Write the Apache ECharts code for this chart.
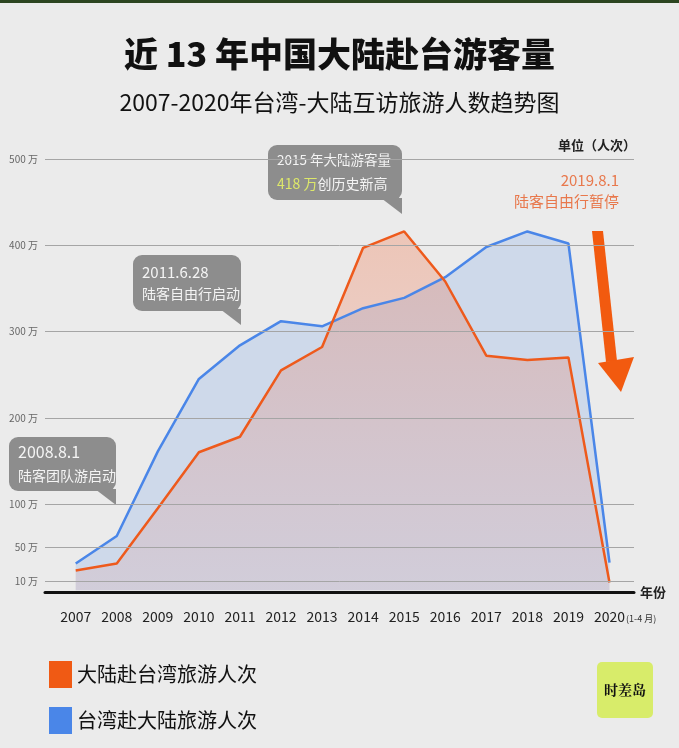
<!DOCTYPE html>
<html><head><meta charset="utf-8">
<script src="https://cdn.jsdelivr.net/npm/echarts@6/dist/echarts.min.js"></script>
<style>html,body{margin:0;padding:0;background:#ebebeb}#c{width:679px;height:748px}</style>
</head><body><div id="c"></div>
<script>
const years = [2007,2008,2009,2010,2011,2012,2013,2014,2015,2016,2017,2018,2019,2020];
// 台湾赴大陆 (万人次)
const taiwanToMainland = [31,63,161,245,284,312,306,327,339,363,398,416,402,32];
// 大陆赴台湾 (万人次)
const mainlandToTaiwan = [23,31,95,160,178,255,282,397,416,358,272,267,270,9];
const yTicks = [10,50,100,200,300,400,500];
const seriesNames = ['大陆赴台湾旅游人次','台湾赴大陆旅游人次'];
const titleText = '近 13 年中国大陆赴台游客量';
const subtitleText = '2007-2020年台湾-大陆互访旅游人数趋势图';

const F = '"Noto Sans CJK SC","Noto Sans",sans-serif';
const ORANGE = '#ee5a1c', BLUE = '#4a86e8', BOX = '#8d8d8d', BOXTXT = '#f4f4f4';

function callout(x, y, w, h, lines) {
  const els = [
    {type:'rect', shape:{x:x, y:y, width:w, height:h, r:9}, style:{fill:BOX}},
    {type:'polygon', shape:{points:[[x+w-21, y+h-2],[x+w, y+h-2],[x+w, y+h+14]]}, style:{fill:BOX}}
  ];
  lines.forEach(l => els.push({type:'text', x:x+9, y:l.y, style:{text:l.text, rich:l.rich, fill:BOXTXT, fontSize:l.size, fontFamily:F, verticalAlign:'middle', align:'left'}}));
  return els;
}

const chart = echarts.init(document.getElementById('c'));
chart.setOption({
  backgroundColor:'#ebebeb',
  animation:false,
  textStyle:{fontFamily:F},
  title:[
    {text:titleText, left:'center', top:32, textStyle:{fontSize:34, fontWeight:900, color:'#111', fontFamily:F}},
    {text:subtitleText, left:'center', top:86, textStyle:{fontSize:23, fontWeight:'normal', color:'#111', fontFamily:F}}
  ],
  grid:{left:45, right:45, top:159, bottom:156},
  xAxis:{
    type:'value', min:2006.252, max:2020.597,
    axisLine:{show:true, onZero:false, lineStyle:{color:'#111', width:3}},
    axisTick:{show:false}, splitLine:{show:false},
    axisLabel:{customValues:years, formatter:v=>String(v), margin:18, fontSize:14, color:'#222', fontFamily:F},
    name:'年份', nameLocation:'end', nameGap:6,
    nameTextStyle:{fontSize:13, color:'#222', fontWeight:'bold', fontFamily:F}
  },
  yAxis:{
    type:'value', min:-2, max:500,
    axisLine:{show:false}, axisTick:{show:false}, splitLine:{show:false},
    axisLabel:{customValues:yTicks, formatter:v=>v+' 万', fontSize:10, color:'#666', margin:7, fontFamily:F}
  },
  legend:{
    left:44, top:656, orient:'vertical', itemWidth:23, itemHeight:27, itemGap:19, icon:'rect',
    textStyle:{fontSize:20, color:'#111', fontFamily:F},
    data:[{name:seriesNames[0], itemStyle:{color:'#f05a14'}},{name:seriesNames[1], itemStyle:{color:BLUE}}]
  },
  series:[
    {
      name:seriesNames[1], type:'line', symbol:'none',
      data:years.map((y,i)=>[y, taiwanToMainland[i]]),
      lineStyle:{color:BLUE, width:2.5}, itemStyle:{color:BLUE},
      areaStyle:{color:'rgba(74,134,232,0.25)'},
      markLine:{silent:true, symbol:['none','none'], label:{show:false},
        lineStyle:{color:'#a5a5a5', width:1, type:'solid'},
        data:yTicks.map(v=>({yAxis:v}))}
    },
    {
      name:seriesNames[0], type:'line', symbol:'none',
      data:years.map((y,i)=>[y, mainlandToTaiwan[i]]),
      lineStyle:{color:ORANGE, width:2.5}, itemStyle:{color:ORANGE},
      areaStyle:{color:new echarts.graphic.LinearGradient(0,0,0,1,[
        {offset:0, color:'rgba(240,100,50,0.40)'},
        {offset:1, color:'rgba(235,110,90,0.16)'}
      ])}
    }
  ],
  graphic:{elements:[
    {type:'rect', shape:{x:0, y:0, width:679, height:3}, style:{fill:'#2c4520'}},
    {type:'text', x:636, y:145, style:{text:'单位（人次）', fill:'#222', fontSize:13, fontWeight:'bold', fontFamily:F, align:'right', verticalAlign:'middle'}},
    {type:'text', x:626, y:619, style:{text:'(1-4 月)', fill:'#333', fontSize:9, fontFamily:F, align:'left', verticalAlign:'middle'}},
    ...callout(9, 437, 107, 54, [{text:'2008.8.1', y:452, size:16},{text:'陆客团队游启动', y:476, size:14}]),
    ...callout(133, 255, 108, 56, [{text:'2011.6.28', y:272, size:15},{text:'陆客自由行启动', y:294, size:14}]),
    ...callout(268, 145, 134, 55, [{text:'2015 年大陆游客量', y:160, size:13.5},
      {text:'{y|418 万}{w|创历史新高}', y:184, size:14, rich:{y:{fill:'#dde86a', fontSize:14, fontFamily:F}, w:{fill:BOXTXT, fontSize:14, fontFamily:F}}}]),
    {type:'text', x:619, y:180, style:{text:'2019.8.1', fill:'#e8784c', fontSize:15, fontFamily:F, align:'right', verticalAlign:'middle'}},
    {type:'text', x:619, y:201, style:{text:'陆客自由行暂停', fill:'#e8784c', fontSize:15, fontFamily:F, align:'right', verticalAlign:'middle'}},
    {type:'polygon', shape:{points:[[592,231],[603,231],[617,361],[606,362]]}, style:{fill:'#f25a0f'}},
    {type:'polygon', shape:{points:[[598,363],[634,357],[621,392]]}, style:{fill:'#f25a0f'}},
    {type:'rect', shape:{x:597, y:662, width:56, height:56, r:5}, style:{fill:'#d8ec6a'}},
    {type:'text', x:625, y:690, style:{text:'时差岛', fill:'#111', fontSize:14, fontWeight:'bold', fontFamily:'"Noto Serif CJK SC","Noto Sans CJK SC",serif', align:'center', verticalAlign:'middle'}}
  ]}
});
</script>
</body></html>
